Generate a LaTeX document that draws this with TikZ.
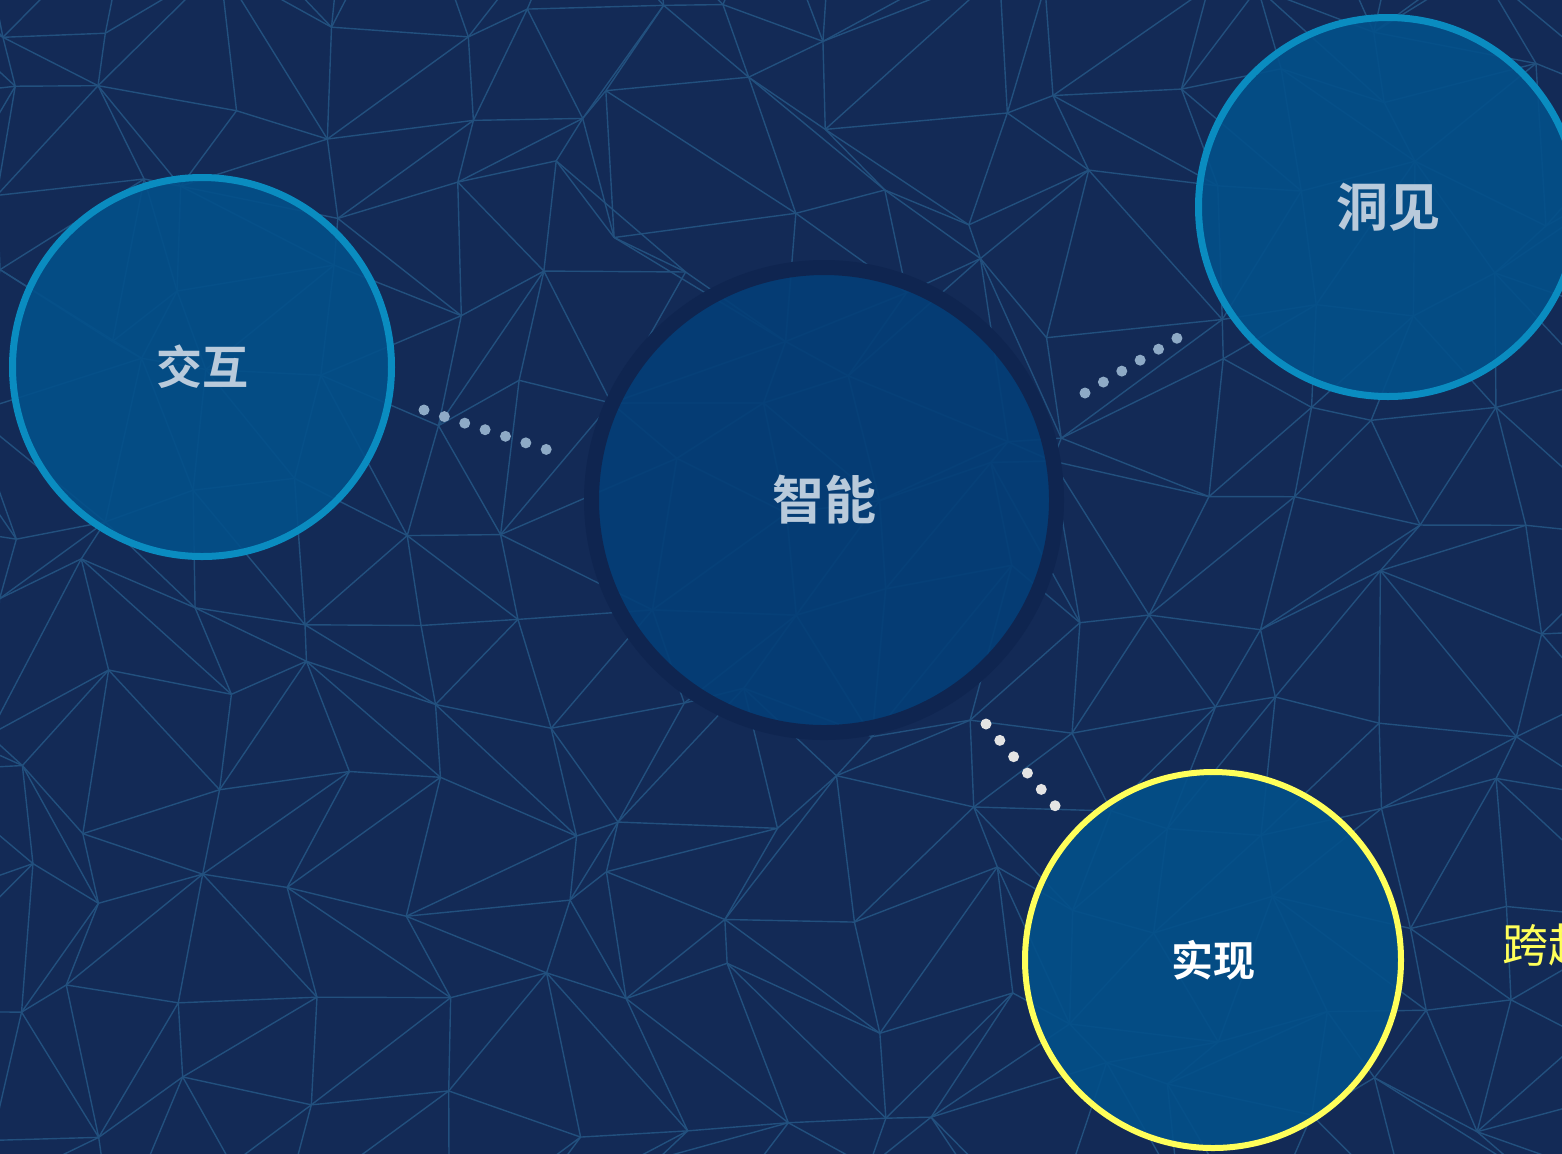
\documentclass[tikz,border=0pt]{standalone}
\usepackage{fontspec}
\newfontfamily\cjk{Noto Sans CJK SC}[BoldFont={Noto Sans CJK SC Bold}]
\definecolor{bg}{HTML}{132A56}
\definecolor{mesh}{HTML}{22507E}
\definecolor{blueborder}{HTML}{0A8CC0}
\definecolor{bluefill}{HTML}{03508A}
\definecolor{midfill}{HTML}{043F78}
\definecolor{midring}{HTML}{0F2550}
\definecolor{txt}{HTML}{B9CADB}
\definecolor{dotblue}{HTML}{8EAAC6}
\definecolor{dotwhite}{HTML}{E4E4E4}
\definecolor{yel}{HTML}{FFFF5A}
\tikzset{
  topic/.style={circle, inner sep=0pt, fill=bluefill, fill opacity=0.9, text opacity=1, font=\cjk\bfseries},
  dotline/.style={line width=5.5pt, line cap=round, dash pattern=on 0pt off 10.7pt},
  meshline/.style={draw=mesh, line width=0.7pt}
}
\begin{document}
\begin{tikzpicture}[x=0.5pt, y=-0.5pt]
\useasboundingbox (0,0) rectangle (1562,1153);
\fill[bg] (-20,-20) rectangle (1582,1173);
\clip (-20,-20) rectangle (1582,1173);
% background mesh
\pgfmathsetseed{7}
\foreach \i in {0,...,16}{
  \foreach \j in {0,...,13}{
    \pgfmathsetmacro\xx{(\i-1)*108+rand*44}
    \pgfmathsetmacro\yy{(\j-1)*100+rand*42}
    \coordinate (p\i-\j) at (\xx,\yy);
  }
}
\foreach \i in {0,...,15}{
  \foreach \j in {0,...,12}{
    \pgfmathtruncatemacro\ni{\i+1}
    \pgfmathtruncatemacro\nj{\j+1}
    \pgfmathrandominteger{\r}{0}{1}
    \draw[meshline] (p\i-\j) -- (p\ni-\j);
    \draw[meshline] (p\i-\j) -- (p\i-\nj);
    \ifnum\r=0
      \draw[meshline] (p\i-\j) -- (p\ni-\nj);
    \else
      \draw[meshline] (p\ni-\j) -- (p\i-\nj);
    \fi
  }
}
% circles
\node[topic, draw=blueborder, line width=3.5pt, minimum size=189.5pt, text=txt, font=\cjk\bfseries\fontsize{23pt}{23pt}\selectfont] (jiaohu) at (202,367) {交互};
\node[topic, fill=midfill, draw=midring, line width=7.5pt, minimum size=232.5pt, text=txt, font=\cjk\bfseries\fontsize{26pt}{26pt}\selectfont] (zhineng) at (824,500) {智能};
\node[topic, draw=blueborder, line width=3.5pt, minimum size=189.5pt, text=txt, font=\cjk\bfseries\fontsize{26pt}{26pt}\selectfont] (dongjian) at (1388,207) {洞见};
\node[topic, draw=yel, line width=3pt, minimum size=188pt, text=white, font=\cjk\bfseries\fontsize{21pt}{21pt}\selectfont] (shixian) at (1213,960) {实现};
\node[anchor=west, inner sep=0pt, text=yel, font=\cjk\fontsize{23pt}{23pt}\selectfont] (kuayue) at (1502,945) {跨越};
% dotted connectors
\coordinate (a1) at (424,410);
\coordinate (a2) at (548,450);
\coordinate (b1) at (1085,393);
\coordinate (b2) at (1179,337);
\coordinate (c1) at (986,724);
\coordinate (c2) at (1057,808);
\draw[dotline, dotblue] (a1) -- (a2);
\draw[dotline, dotblue] (b1) -- (b2);
\draw[dotline, dotwhite] (c1) -- (c2);
\end{tikzpicture}
\end{document}
